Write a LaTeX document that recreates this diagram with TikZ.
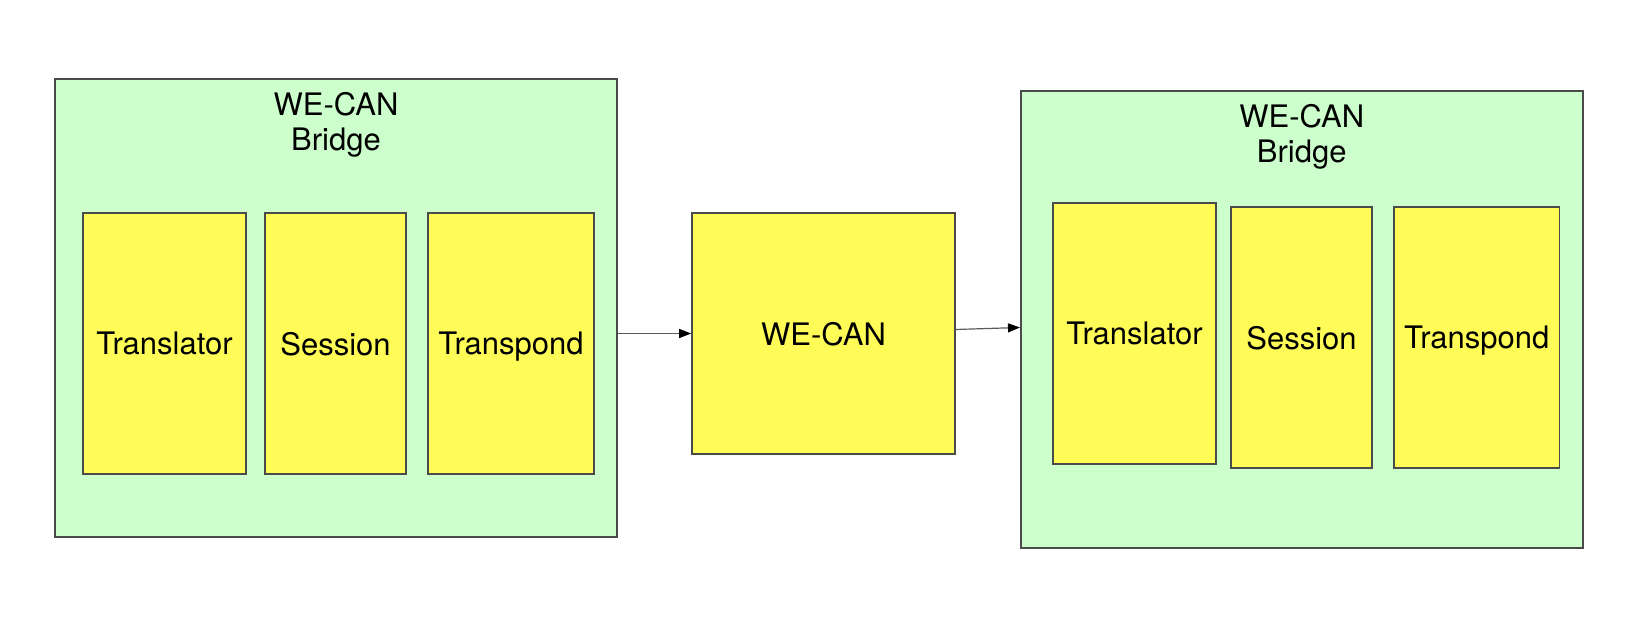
\documentclass[tikz,border=0pt]{standalone}
\usepackage{fontspec}
\setmainfont{TeX Gyre Heros}
\usepackage{xcolor}
\usepackage{tikz}
\usetikzlibrary{positioning, arrows.meta}
\definecolor{edge}{RGB}{74,74,74}
\definecolor{bridgec}{RGB}{204,255,204}
\definecolor{partc}{RGB}{255,252,88}
\definecolor{wire}{RGB}{90,90,90}

\begin{document}
\begin{tikzpicture}[x=0.5pt, y=-0.5pt,
  bridge/.style={draw=edge, line width=0.8pt, fill=bridgec, inner sep=0pt},
  part/.style={draw=edge, line width=0.8pt, fill=partc, inner sep=0pt, text depth=0pt, font=\fontsize{15.5}{17.5}\selectfont},
  title/.style={align=center, inner sep=0pt, font=\fontsize{15.5}{17.5}\selectfont},
  link/.style={wire, line width=0.6pt, -{Triangle[length=6pt, width=4.5pt, color=black]}}]
\useasboundingbox (0,0) rectangle (1646,630);
% left bridge
\node[bridge, minimum width=281pt, minimum height=229pt] (lbr) at (336,308) {};
\node[title, below=7pt of lbr.north] (ltitle) {WE-CAN\\Bridge};
\node[part, minimum width=81.5pt, minimum height=130.5pt] (ltr) at (164.5,343.5) {Translator};
\node[part, minimum width=70.5pt, minimum height=130.5pt] (lse) at (335.5,343.5) {Session};
\node[part, minimum width=83pt, minimum height=130.5pt] (ltp) at (511,343.5) {Transpond};
% middle
\node[part, minimum width=131.5pt, minimum height=120.5pt] (mid) at (823.5,333.5) {WE-CAN};
% right bridge
\node[bridge, minimum width=281pt, minimum height=228.5pt] (rbr) at (1301.75,319.5) {};
\node[title, below=7pt of rbr.north] (rtitle) {WE-CAN\\Bridge};
\node[part, minimum width=81.5pt, minimum height=130.5pt] (rtr) at (1134.5,333.5) {Translator};
\node[part, minimum width=70.5pt, minimum height=130.5pt] (rse) at (1301.5,337.5) {Session};
\node[part, minimum width=82.75pt, minimum height=130.5pt] (rtp) at (1476.75,337.5) {Transpond};
% links
\draw[link] (lbr.east |- mid.west) -- (mid.west);
\draw[link] ([yshift=2pt]mid.east) -- ([yshift=-4pt]rbr.west);
\end{tikzpicture}
\end{document}
